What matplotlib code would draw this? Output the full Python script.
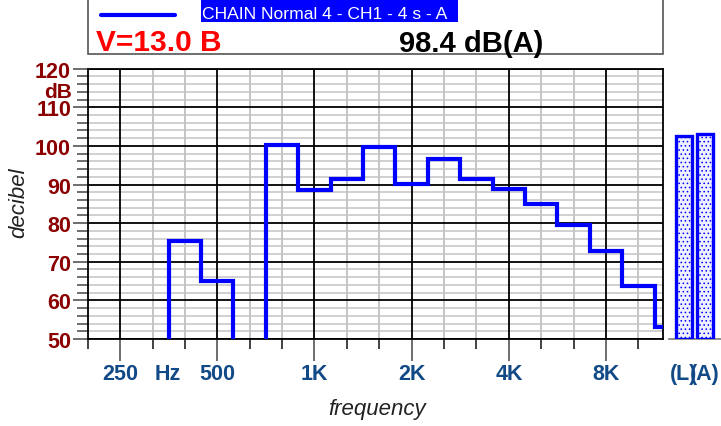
import numpy as np
import matplotlib
matplotlib.use("Agg")
import matplotlib.pyplot as plt
from matplotlib.patches import Rectangle
from matplotlib.lines import Line2D

plt.rcParams['font.family'] = ['Liberation Sans', 'DejaVu Sans']
plt.rcParams['hatch.color'] = '#c4c8ff'
plt.rcParams['hatch.linewidth'] = 0.6

# ---- data ----
bands = ['200', '250', '315', '400', '500', '630', '800', '1K', '1.25K', '1.6K',
         '2K', '2.5K', '3.15K', '4K', '5K', '6.3K', '8K', '10K', '12.5K']
levels = [np.nan, np.nan, np.nan, 75.5, 64.9, np.nan, 100.3, 88.7, 91.5, 99.7,
          90.2, 96.6, 91.5, 88.8, 85.0, 79.6, 72.7, 63.8, 53.0]
octave_labels = ['250', '500', '1K', '2K', '4K', '8K']
total_labels = ['(L)', '(A)']
total_levels = [102.7, 103.1]
yticks = [50, 60, 70, 80, 90, 100, 110, 120]
legend_text = 'CHAIN Normal 4 - CH1 - 4 s - A'
speed_text = 'V=13.0 B'
overall_text = '98.4 dB(A)'

W, H = 721, 427
fig = plt.figure(figsize=(W / 100, H / 100), dpi=100)


def fx(x):
    return x / W


def fy(y):
    return 1 - y / H


YLO, YHI = 50, 120
ax_l, ax_r, ax_t, ax_b = 87.7, 662.7, 69.7, 340.0
ax = fig.add_axes([fx(ax_l), fy(ax_b), fx(ax_r - ax_l), (ax_b - ax_t) / H])
ax.set_ylim(YLO, YHI)
xmax = (ax_r - ax_l) / 32.4
ax.set_xlim(0, xmax)

idx = np.arange(len(bands))
# grid
for i in idx:
    if bands[i] in octave_labels:
        ax.axvline(i, color='black', lw=1.3, zorder=1)
    else:
        ax.axvline(i, color='#bbbbbb', lw=1.2, zorder=0.5)
for v in range(YLO, YHI + 1, 2):
    if v % 10 == 0:
        ax.axhline(v, color='black', lw=1.3, zorder=1)
    else:
        ax.axhline(v, color='#c4c4c4', lw=1.1, zorder=0.5)

# step line
vals = np.array([YLO - 100 if np.isnan(v) else v for v in levels])
edges = np.concatenate([idx - 0.5, [idx[-1] + 0.5]])
ax.stairs(vals, edges, baseline=None, color='#0000ff', lw=3.0, zorder=3)

for s in ax.spines.values():
    s.set_color('black')
    s.set_linewidth(1.3)

# y ticks
ax.set_yticks(yticks)
ax.set_yticklabels([str(t) for t in yticks], color='#8b0000',
                   fontsize=15.5, fontweight='bold')
ax.set_yticks(np.arange(YLO, YHI + 1, 2), minor=True)
ax.tick_params(axis='y', which='major', length=11, width=1.2, color='#555555', pad=1)
ax.tick_params(axis='y', which='minor', length=8, width=1.2, color='#555555')
ax.text(-16 / (ax_r - ax_l), 114.2, 'dB', transform=ax.get_yaxis_transform(),
        ha='right', va='center', color='#8b0000', fontsize=15, fontweight='bold')

# x ticks
oct_idx = [bands.index(b) for b in octave_labels]
ax.set_xticks(oct_idx)
ax.set_xticklabels([])
ax.set_xticks([i for i in idx if i <= xmax and i not in oct_idx], minor=True)
ax.tick_params(axis='x', which='major', length=16, width=1.2, color='#555555')
ax.tick_params(axis='x', which='minor', length=7.5, width=1.2, color='#222222')
ax.tick_params(axis='x', direction='out')
lab_y = (ax_b - 375) / (ax_b - ax_t)
xcol = '#114a86'
for i, lab in zip(oct_idx, octave_labels):
    ax.text(i, lab_y, lab, transform=ax.get_xaxis_transform(), ha='center',
            va='center', color=xcol, fontsize=15.5, fontweight='bold')
ax.text((167.5 - ax_l) / 32.4, lab_y, 'Hz', transform=ax.get_xaxis_transform(),
        ha='center', va='center', color=xcol, fontsize=15.5, fontweight='bold')

fig.text(fx(377), fy(410), 'frequency', ha='center', va='center',
         fontsize=16, style='italic', color='#222222')
fig.text(fx(19), fy(203), 'decibel', ha='center', va='center', rotation=90,
         fontsize=16, style='italic', color='#222222')

# totals axes
bx_l = 669
ax2 = fig.add_axes([fx(bx_l), fy(ax_b), fx(W - bx_l), (ax_b - ax_t) / H])
ax2.set_ylim(YLO, YHI)
unit = 21.0
ax2.set_xlim(-(684 - bx_l) / unit, (W - 684) / unit)
ax2.bar(range(len(total_levels)), np.array(total_levels) - YLO, bottom=YLO,
        width=16.6 / unit, facecolor='#eef0ff', edgecolor='#0000ff', lw=2.4,
        hatch='....', zorder=3)
for s in ['top', 'right', 'left']:
    ax2.spines[s].set_visible(False)
ax2.spines['bottom'].set_color('#888888')
ax2.spines['bottom'].set_linewidth(1.3)
ax2.set_yticks([])
ax2.set_xticks([])
for i, lab in enumerate(total_labels):
    ax2.text(i, lab_y, lab, transform=ax2.get_xaxis_transform(), ha='center',
             va='center', color=xcol, fontsize=15.5, fontweight='bold')

# header box
fig.patches.append(Rectangle((fx(87.7), fy(54.5)), fx(662.7 - 87.7), 54.5 / H + 0.01,
                             transform=fig.transFigure, facecolor='white',
                             edgecolor='#555555', lw=1.2))
fig.lines.append(Line2D([fx(100.7), fx(175)], [fy(16), fy(16)],
                        transform=fig.transFigure, color='#0000ff', lw=3.0,
                        solid_capstyle='round'))
fig.patches.append(Rectangle((fx(200.7), fy(22.7)), fx(457.7 - 200.7), 22.7 / H + 0.01,
                             transform=fig.transFigure, facecolor='#0000ff',
                             edgecolor='none'))
fig.text(fx(202), fy(19), legend_text, ha='left', va='baseline', color='white',
         fontsize=12.6)
fig.text(fx(96), fy(50.7), speed_text, ha='left', va='baseline', color='#ff0000',
         fontsize=21.5, fontweight='bold')
fig.text(fx(399), fy(51.7), overall_text, ha='left', va='baseline', color='black',
         fontsize=21, fontweight='bold')

fig.savefig('out.png', dpi=100)
